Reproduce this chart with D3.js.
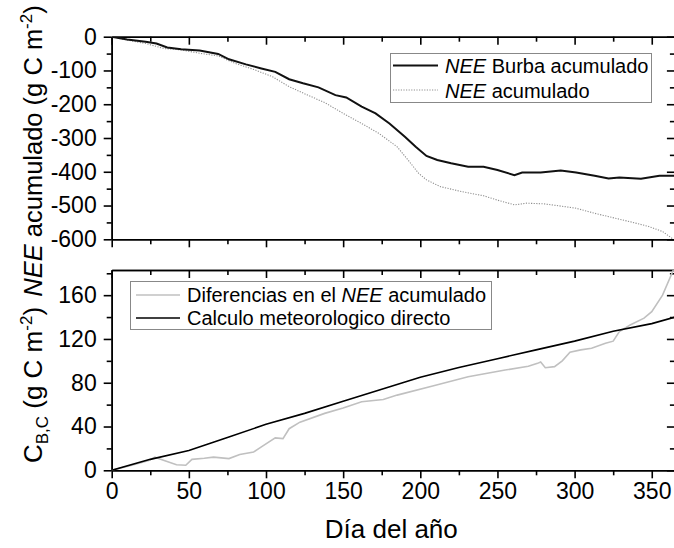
<!DOCTYPE html>
<html><head><meta charset="utf-8">
<script src="https://cdn.jsdelivr.net/npm/d3@7"></script>
<style>
body{margin:0;background:#fff}
svg{display:block}
text{font-family:"Liberation Sans",Arial,sans-serif;fill:#000}
</style></head><body><svg id="c" width="674" height="548"></svg>
<script>
// ---- data ----
const xMajor = [0,50,100,150,200,250,300,350];
const xMinor = [25,75,125,175,225,275,325];
const topMajor = [0,-100,-200,-300,-400,-500,-600];
const topMinor = [-50,-150,-250,-350,-450,-550];
const botMajor = [0,40,80,120,160];
const botMinor = [20,60,100,140,180];

const burbaDays = [0,10,22,29,36,45,57,69,76,87,97,106,115,124,134,145,152,162,171,180,190,197,204,211,220,231,241,250,261,266,278,291,301,313,322,329,343,355,365];
const burbaVals = [0,-8,-15,-20,-32,-37,-41,-51,-67,-82,-94,-104,-126,-138,-150,-173,-180,-207,-227,-257,-296,-326,-353,-365,-375,-385,-385,-395,-410,-402,-402,-396,-402,-412,-420,-417,-421,-412,-412];

const neeDays = [0,10,22,34,45,57,69,80,92,104,115,127,138,150,162,173,185,192,199,204,213,227,241,250,261,269,280,290,301,313,324,336,348,357,364];
const neeVals = [0,-10,-20,-35,-39,-49,-57,-79,-97,-118,-148,-173,-195,-227,-257,-286,-326,-365,-405,-424,-444,-459,-471,-484,-498,-493,-495,-501,-508,-523,-535,-548,-562,-577,-600];

const diffDays = [0,13,24,28,34,42,48,52,60,66,76,83,92,97,106,111,115,122,138,150,162,176,185,208,231,255,270,276,278,281,287,292,297,304,311,320,325,329,336,345,350,357,364];
const diffVals = [0,4.6,9,12,9,5,4.6,10,11,12,10.7,14.4,16.8,21.4,29.6,29,38,44,52,57,62.6,64.7,68.7,77,85.5,91.6,95,97.7,99,93.7,94.7,100,107.8,110,111.5,116,118,126.7,132.8,139,145,160,183];

const calcDays = [0,25,50,75,100,125,150,175,200,225,250,275,300,325,350,365];
const calcVals = [0,10,18,30,42,52,63,74,85,94,102,110,118,127,134,140];

// ---- layout ----
const svg = d3.select("#c");
const xL = 111.7, xR = 674.9;
const x = d3.scaleLinear().domain([0,365]).range([xL,xR]);
const top1 = 36.7, bot1 = 239.3, top2 = 270, bot2 = 470.3;
const y1 = d3.scaleLinear().domain([-600,0]).range([bot1,top1]);
const y2 = d3.scaleLinear().domain([0,183]).range([bot2,top2]);

function styleAxis(g, labelSize){
  g.select(".domain").attr("stroke","#000").attr("stroke-width",1.6);
  g.selectAll(".tick line").attr("stroke","#000").attr("stroke-width",1.6);
  g.selectAll(".tick text").attr("font-size",labelSize).attr("font-family",'"Liberation Sans",Arial,sans-serif').attr("fill","#000");
  g.attr("font-family",null).attr("font-size",null);
}

function panel(y, yt, ymaj, ymin, fmt, showX, clipId){
  // left (outward)
  let g = svg.append("g").attr("transform",`translate(${xL},0)`)
    .call(d3.axisLeft(y).tickValues(ymaj).tickSize(8).tickSizeOuter(0).tickPadding(7).tickFormat(fmt));
  styleAxis(g, 23);
  g = svg.append("g").attr("transform",`translate(${xL},0)`)
    .call(d3.axisLeft(y).tickValues(ymin).tickSize(5).tickSizeOuter(0).tickFormat(""));
  styleAxis(g, 0);
  // right (inward)
  g = svg.append("g").attr("transform",`translate(${xR},0)`)
    .call(d3.axisLeft(y).tickValues(ymaj).tickSize(8).tickSizeOuter(0).tickFormat(""));
  styleAxis(g, 0);
  g = svg.append("g").attr("transform",`translate(${xR},0)`)
    .call(d3.axisLeft(y).tickValues(ymin).tickSize(5).tickSizeOuter(0).tickFormat(""));
  styleAxis(g, 0);
  // top (inward)
  g = svg.append("g").attr("transform",`translate(0,${yt[0]})`)
    .call(d3.axisBottom(x).tickValues(xMajor).tickSize(8).tickSizeOuter(0).tickFormat(""));
  styleAxis(g, 0);
  g = svg.append("g").attr("transform",`translate(0,${yt[0]})`)
    .call(d3.axisBottom(x).tickValues(xMinor).tickSize(5).tickSizeOuter(0).tickFormat(""));
  styleAxis(g, 0);
  // bottom (outward)
  g = svg.append("g").attr("transform",`translate(0,${yt[1]})`)
    .call(d3.axisBottom(x).tickValues(xMajor).tickSize(8).tickSizeOuter(0).tickPadding(4)
      .tickFormat(showX ? (d=>String(d)) : ""));
  styleAxis(g, 23);
  g = svg.append("g").attr("transform",`translate(0,${yt[1]})`)
    .call(d3.axisBottom(x).tickValues(xMinor).tickSize(5).tickSizeOuter(0).tickFormat(""));
  styleAxis(g, 0);

  svg.append("clipPath").attr("id",clipId).append("rect")
    .attr("x",xL).attr("y",yt[0]).attr("width",xR-xL).attr("height",yt[1]-yt[0]);
}

panel(y1,[top1,bot1],topMajor,topMinor,d=>String(d),false,"clip1");
panel(y2,[top2,bot2],botMajor,botMinor,d=>String(d),true,"clip2");

const line1 = d3.line().x(d=>x(d[0])).y(d=>y1(d[1]));
const line2 = d3.line().x(d=>x(d[0])).y(d=>y2(d[1]));
const zip = (a,b)=>a.map((v,i)=>[v,b[i]]);

const g1 = svg.append("g").attr("clip-path","url(#clip1)");
g1.append("path").datum(zip(neeDays,neeVals)).attr("d",line1)
  .attr("fill","none").attr("stroke","#8f8f8f").attr("stroke-width",1.1).attr("stroke-dasharray","1.2,1.4");
g1.append("path").datum(zip(burbaDays,burbaVals)).attr("d",line1)
  .attr("fill","none").attr("stroke","#111").attr("stroke-width",2);

const g2 = svg.append("g").attr("clip-path","url(#clip2)");
g2.append("path").datum(zip(diffDays,diffVals)).attr("d",line2)
  .attr("fill","none").attr("stroke","#c0c0c0").attr("stroke-width",1.6);
g2.append("path").datum(zip(calcDays,calcVals)).attr("d",line2)
  .attr("fill","none").attr("stroke","#000").attr("stroke-width",1.6);

// ---- legends ----
function legendText(g, xx, yy, parts){
  const t = g.append("text").attr("x",xx).attr("y",yy).attr("font-size",20).attr("dominant-baseline","central");
  parts.forEach(p=>t.append("tspan").attr("font-style",p[1]?"italic":"normal").text(p[0]));
}
const L1 = svg.append("g");
L1.append("rect").attr("x",390.5).attr("y",53.5).attr("width",261).attr("height",49)
  .attr("fill","#fff").attr("stroke","#888").attr("stroke-width",1);
L1.append("line").attr("x1",393).attr("x2",438).attr("y1",65.5).attr("y2",65.5).attr("stroke","#111").attr("stroke-width",2);
L1.append("line").attr("x1",393).attr("x2",438).attr("y1",90).attr("y2",90).attr("stroke","#8f8f8f").attr("stroke-width",1.1).attr("stroke-dasharray","1.2,1.4");
legendText(L1,445,66,[["NEE",true],[" Burba acumulado",false]]);
legendText(L1,445,91,[["NEE",true],[" acumulado",false]]);

const L2 = svg.append("g");
L2.append("rect").attr("x",130.5).attr("y",281.5).attr("width",361).attr("height",48)
  .attr("fill","#fff").attr("stroke","#888").attr("stroke-width",1);
L2.append("line").attr("x1",136).attr("x2",180).attr("y1",295).attr("y2",295).attr("stroke","#c0c0c0").attr("stroke-width",1.6);
L2.append("line").attr("x1",136).attr("x2",180).attr("y1",318).attr("y2",318).attr("stroke","#000").attr("stroke-width",1.6);
legendText(L2,187,295,[["Diferencias en el ",false],["NEE",true],[" acumulado",false]]);
legendText(L2,187,318,[["Calculo meteorologico directo",false]]);

// ---- titles ----
svg.append("text").attr("x",(xL+xR)/2-2).attr("y",538).attr("text-anchor","middle").attr("font-size",26).text("Día del año");

const t1 = svg.append("text").attr("transform","translate(42,151) rotate(-90)").attr("text-anchor","middle").attr("font-size",25.5);
t1.append("tspan").attr("font-style","italic").text("NEE");
t1.append("tspan").text(" acumulado (g C m");
t1.append("tspan").attr("font-size",17).attr("dy",-10).text("-2");
t1.append("tspan").attr("dy",10).text(")");

const t2 = svg.append("text").attr("transform","translate(42,385) rotate(-90)").attr("text-anchor","middle").attr("font-size",26);
t2.append("tspan").text("C");
t2.append("tspan").attr("font-size",17).attr("dy",6).text("B,C");
t2.append("tspan").attr("dy",-6).text(" (g C m");
t2.append("tspan").attr("font-size",17).attr("dy",-10).text("-2");
t2.append("tspan").attr("dy",10).text(")");
</script></body></html>
